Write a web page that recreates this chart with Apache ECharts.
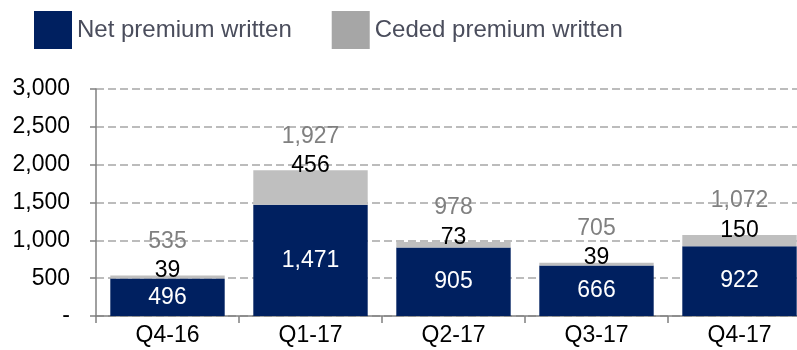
<!DOCTYPE html>
<html><head><meta charset="utf-8">
<script src="https://cdn.jsdelivr.net/npm/echarts@6/dist/echarts.min.js"></script>
<style>html,body{margin:0;padding:0;background:#fff;overflow:hidden}#c{width:820px;height:350px}</style>
</head><body><div id="c"></div>
<script>
const categories = ['Q4-16','Q1-17','Q2-17','Q3-17','Q4-17'];
const netPremium = [496, 1471, 905, 666, 922];
const cededPremium = [39, 456, 73, 39, 150];
const totals = [535, 1927, 978, 705, 1072];
const yTicks = [0, 500, 1000, 1500, 2000, 2500, 3000];

const FONT = '"Liberation Sans", Arial, sans-serif';
const fmt = v => v === 0 ? '-' : v.toLocaleString('en-US');

const chart = echarts.init(document.getElementById('c'), null, {renderer:'canvas'});
chart.setOption({
  animation: false,
  textStyle: {fontFamily: FONT},
  legend: {
    left: 29, top: 6, itemWidth: 38, itemHeight: 38, itemGap: 40,
    icon: 'rect',
    textStyle: {fontSize: 24, color: '#4a4d5c', fontFamily: FONT},
    data: [
      {name: 'Net premium written', itemStyle: {color: '#002060'}},
      {name: 'Ceded premium written', itemStyle: {color: '#a6a6a6'}}
    ]
  },
  grid: {left: 96, top: 89, right: 9, bottom: 34, containLabel: false},
  xAxis: {
    type: 'category', data: categories,
    axisLine: {lineStyle: {color: '#808080', width: 1.5}},
    axisTick: {show: true, alignWithLabel: false, length: 7, lineStyle: {color: '#808080', width: 1.5}},
    axisLabel: {fontSize: 23, color: '#000', margin: 8, fontFamily: FONT}
  },
  yAxis: {
    type: 'value', min: yTicks[0], max: yTicks[yTicks.length-1], interval: 500,
    axisLine: {show: true, lineStyle: {color: '#808080', width: 1.5}},
    axisTick: {show: true, length: 6, lineStyle: {color: '#808080', width: 1.5}},
    axisLabel: {fontSize: 23, color: '#000', margin: 26, fontFamily: FONT, formatter: fmt},
    splitLine: {show: true, lineStyle: {color: '#a6a6a6', type: [8,4], width: 1.5}}
  },
  series: [
    {
      name: 'Net premium written', type: 'bar', stack: 'p', barCategoryGap: '20%',
      data: netPremium, itemStyle: {color: '#002060'},
      label: {show: true, position: 'inside', color: '#fff', fontSize: 23, fontFamily: FONT, formatter: p => fmt(p.value)}
    },
    {
      name: 'Ceded premium written', type: 'bar', stack: 'p',
      data: cededPremium, itemStyle: {color: '#bfbfbf'},
      label: {show: true, position: 'top', distance: -7, color: '#000', fontSize: 23, fontFamily: FONT, formatter: p => fmt(p.value)}
    },
    {
      name: 'Total', type: 'line', data: totals, symbol: 'circle', symbolSize: 1, showSymbol: true,
      itemStyle: {color: 'rgba(0,0,0,0)'}, lineStyle: {width: 0, color: 'rgba(0,0,0,0)'}, silent: true, z: 1,
      label: {show: true, position: 'top', distance: 22, color: '#808080', fontSize: 23, fontFamily: FONT, formatter: p => fmt(p.value)}
    }
  ]
});
</script></body></html>
